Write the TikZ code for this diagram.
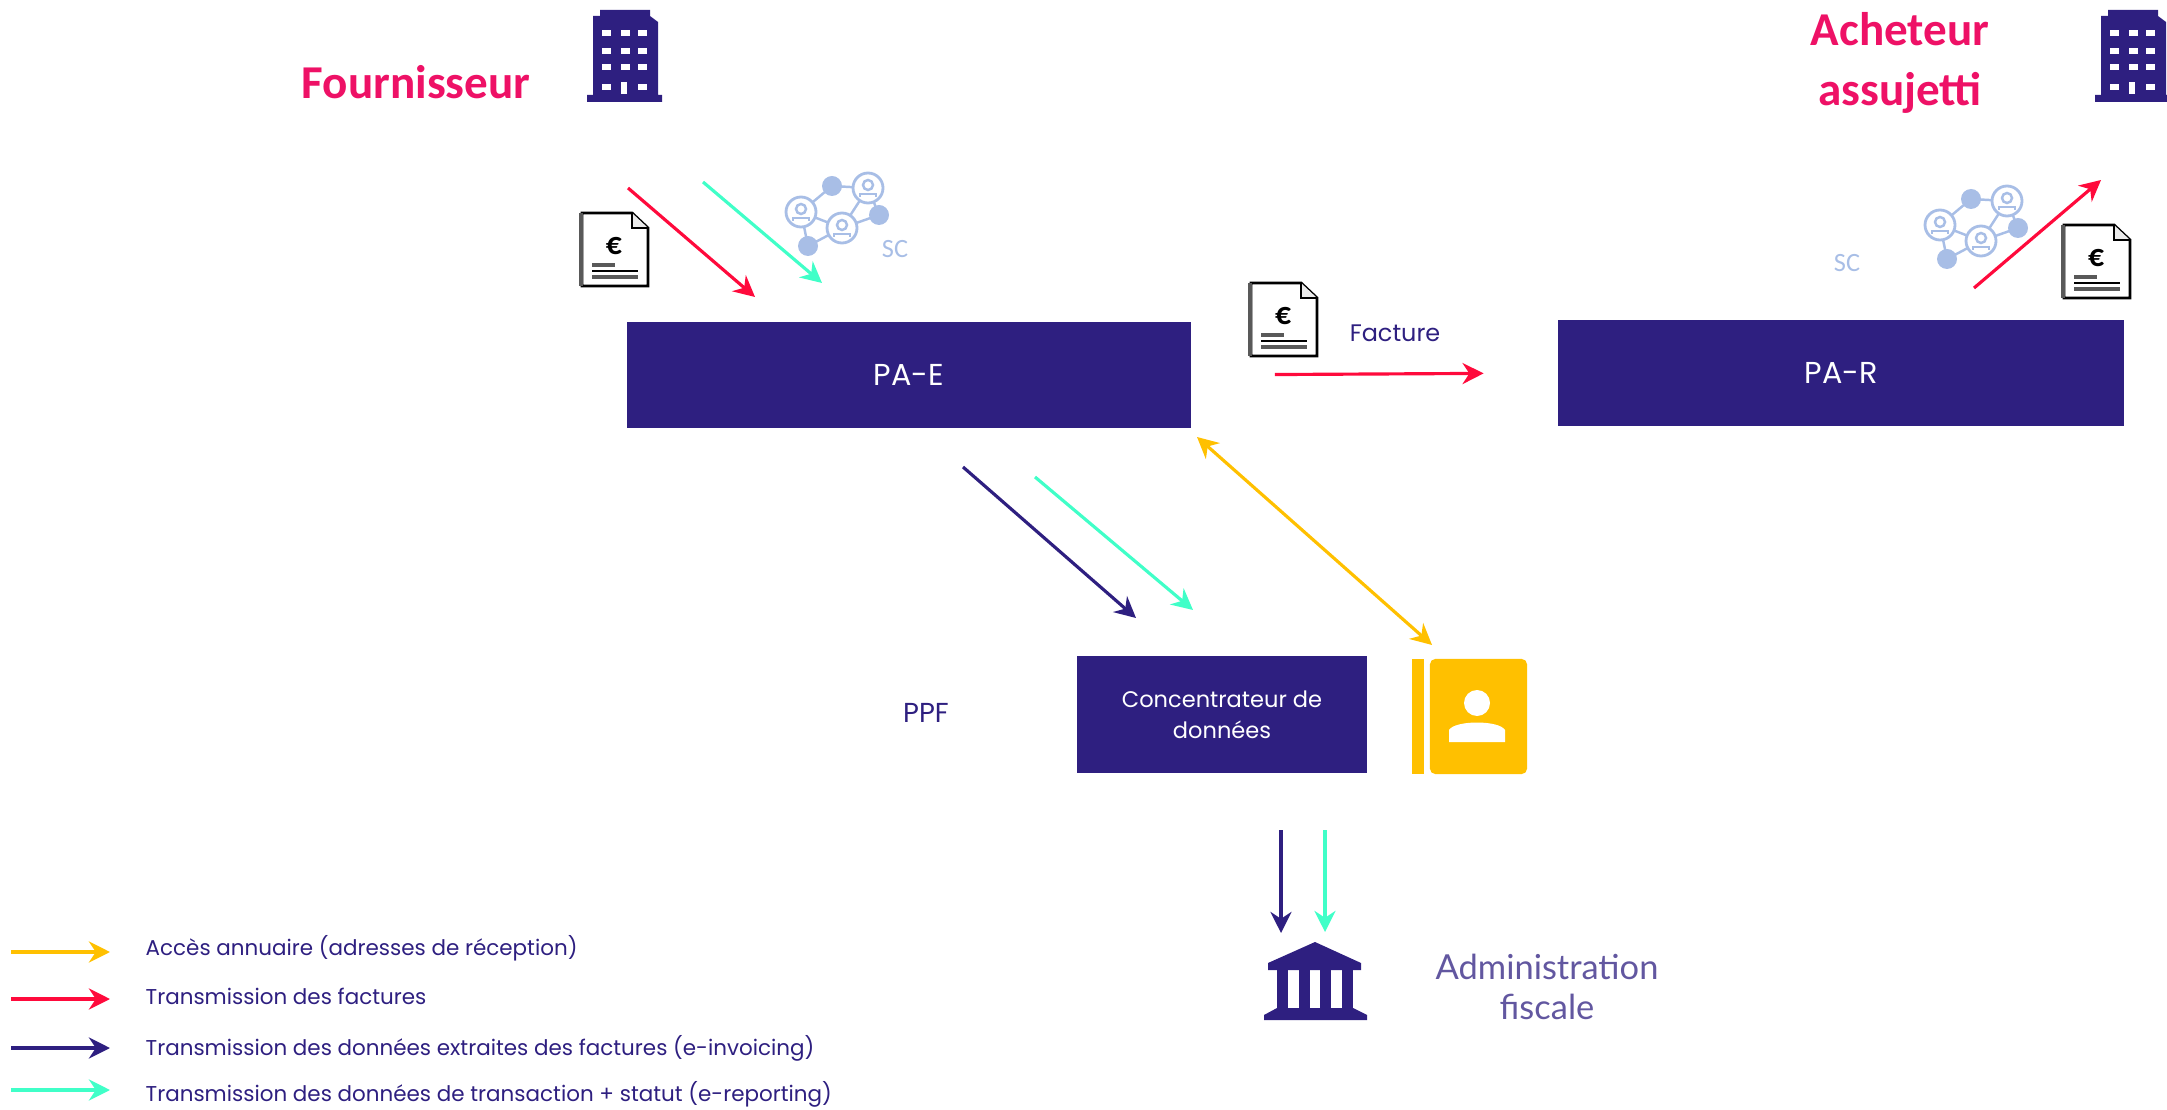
\documentclass[tikz,border=0pt]{standalone}
\usepackage{fontspec}
\setmainfont{Carlito}
\newfontfamily\boxfont{Poppins}
\newfontfamily\thinfont{Lato}
\usetikzlibrary{arrows.meta}
\usetikzlibrary{calc}

\definecolor{navy}{RGB}{46,31,128}
\definecolor{mpink}{RGB}{238,17,102}
\definecolor{mred}{RGB}{255,10,60}
\definecolor{mteal}{RGB}{64,255,200}
\definecolor{myellow}{RGB}{255,192,0}
\definecolor{lblue}{RGB}{168,190,230}
\definecolor{midgray}{rgb}{.35,.35,.35}

\begin{document}
\begin{tikzpicture}[x=.01cm,y=-.01cm,
    flow/.style={line width=.9pt,-{Stealth[length=6pt,width=6pt]}},
    navybox/.style={fill=navy,text=white,inner sep=0pt,font=\boxfont\fontsize{8.6}{10}\selectfont,align=center},
    party/.style={text=mpink,inner sep=0pt,font=\bfseries\fontsize{13.4}{15}\selectfont},
    sclabel/.style={text=lblue,inner sep=0pt,font=\fontsize{7.5}{9}\selectfont},
    legendtext/.style={text=navy,anchor=west,inner sep=0pt,font=\boxfont\fontsize{6.1}{8}\selectfont},
    building/.pic={
      \fill[navy] (6,13) -- (6,6) -- (13,6) -- (13,0) -- (63,0) -- (63,6) -- (71,12) -- (71,85) -- (75,85) -- (75,92) -- (0,92) -- (0,85) -- (6,85) -- cycle;
      \foreach \wx in {15,34,51} \foreach \wy in {20,38,54,74}
        \fill[white] (\wx,\wy) rectangle ++(9,6);
      \fill[navy] (34,74) rectangle ++(9,6);
      \fill[white] (34,72) rectangle ++(6,12);
    },
    invoice/.pic={
      \draw[black,fill=white,line width=.8pt] (2,0) -- (52,0) -- (68,15) -- (68,73) -- (2,73) -- cycle;
      \draw[black,fill=black!8,line width=.8pt] (52,0) -- (52,15) -- (68,15);
      \draw[midgray,line width=1pt] (1,0) -- (1,73);
      \node[inner sep=0pt,font=\bfseries\fontsize{9}{9}\selectfont] at (34,33) {€};
      \draw[midgray,line width=1.1pt] (12,52) -- (35,52);
      \draw[black,line width=.8pt] (12,58) -- (58,58);
      \draw[midgray,line width=1.1pt] (12,64) -- (58,64);
    },
    network/.pic={
      \draw[lblue,line width=.7pt] (31,-26) -- (0,0) -- (41,16) -- (7,34) -- (0,0) (31,-26) -- (67,-24) -- (41,16) -- (78,3) -- (67,-24);
      \foreach \nx/\ny in {31/-26,78/3,7/34}
        \fill[lblue] (\nx,\ny) circle (10);
      \foreach \nx/\ny in {0/0,67/-24,41/16} {
        \draw[lblue,fill=white,line width=.8pt] (\nx,\ny) circle (15);
        \draw[lblue,line width=.7pt] (\nx,\ny-3) circle (5);
        \draw[lblue,line width=.7pt] (\nx-8,\ny+9) -- (\nx-8,\ny+6) -- (\nx+8,\ny+6) -- (\nx+8,\ny+9);
      }
    }]

\useasboundingbox (0,0) rectangle (2167,1110);

% boxes
\node[navybox,minimum width=5.64cm,minimum height=1.05cm] (pae) at (909,375) {PA-E};
\node[navybox,minimum width=5.65cm,minimum height=1.06cm] (par) at (1841,373) {PA-R};
\node[navybox,minimum width=2.9cm,minimum height=1.17cm,font=\boxfont\fontsize{6.4}{8.8}\selectfont] (ppf) at (1222,714.5) {Concentrateur de\\données};
\node[fill=myellow,rounded corners=1.5pt,inner sep=0pt,minimum width=.97cm,minimum height=1.15cm] (book) at (1478.5,716.5) {};
\node[fill=myellow,inner sep=0pt,minimum width=.12cm,minimum height=1.15cm] (spine) at (1418,716.5) {};
\fill[white] (1477,703) circle (13);
\fill[white] (1449,742) -- (1449,730) .. controls (1455,720) and (1499,720) .. (1505,730) -- (1505,742) -- cycle;

% parties
\node[party] (four) at (416,82) {Fournisseur};
\node[party] (ach1) at (1900,29) {Acheteur};
\node[party] (ach2) at (1900,93) {assujetti};
\pic at (587,10) {building};
\pic at (2095,10) {building};

% invoices + networks
\pic at (580,213) {invoice};
\pic at (2062,225) {invoice};
\pic at (1249,283) {invoice};
\pic at (801,212) {network};
\pic at (1940,225) {network};
\node[sclabel] (sc1) at (895,249) {SC};
\node[sclabel] (sc2) at (1847,263) {SC};

% other labels
\node[inner sep=0pt,text=navy,font=\boxfont\fontsize{6.8}{8}\selectfont] (fact) at (1395,333) {Facture};
\node[inner sep=0pt,text=navy,font=\boxfont\fontsize{7.8}{9}\selectfont] (ppflabel) at (926,713) {PPF};
\node[inner sep=0pt,text=navy!75,align=center,font=\thinfont\fontsize{9.8}{11.4}\selectfont] (admin) at (1547,987) {Administration\\fiscale};

% bank
\fill[navy] (1315,942) -- (1361,963) -- (1361,970) -- (1268,970) -- (1268,963) -- cycle;
\foreach \cx in {1277,1299,1320,1342}
  \fill[navy] (\cx,970) rectangle ++(11,40);
\fill[navy] (1277,1008) -- (1353,1008) -- (1367,1015) -- (1367,1020) -- (1264,1020) -- (1264,1015) -- cycle;
\node[inner sep=0pt,minimum size=0pt] (bank) at (1315,960) {};

% free ends of arrows
\coordinate (rs1) at (628,188);
\coordinate (re1) at (755,297);
\coordinate (ts1) at (703,182);
\coordinate (te1) at (822,283);
\coordinate (rs2) at (1974,288);
\coordinate (re2) at (2101,180);
\coordinate (ds1) at (963,467);
\coordinate (de1) at (1136,618);
\coordinate (ts2) at (1035,477);
\coordinate (te2) at (1193,610);
\coordinate (ys1) at (1197,437);
\coordinate (ye1) at (1432,645);
\coordinate (ds2) at (1281,830);
\coordinate (de2) at (1281,933);
\coordinate (ts3) at (1325,830);
\coordinate (te3) at (1325,932);

\draw[flow,mred] (rs1) -- (re1);
\draw[flow,mteal] (ts1) -- (te1);
\draw[flow,mred] (rs2) -- (re2);
\draw[flow,mred,shorten <=.83cm,shorten >=.74cm] (pae.east) -- (par.west);
\draw[flow,navy] (ds1) -- (de1);
\draw[flow,mteal] (ts2) -- (te2);
\draw[flow,myellow,{Stealth[length=6pt,width=6pt]}-{Stealth[length=6pt,width=6pt]}] (ys1) -- (ye1);
\draw[flow,navy] (ds2) -- (de2);
\draw[flow,mteal] (ts3) -- (te3);

% legend
\node[legendtext] (leg1) at (145,948) {Accès annuaire (adresses de réception)};
\node[legendtext] (leg2) at (145,996) {Transmission des factures};
\node[legendtext] (leg3) at (145,1048) {Transmission des données extraites des factures (e-invoicing)};
\node[legendtext] (leg4) at (145,1094) {Transmission des données de transaction + statut (e-reporting)};
\coordinate (ls1) at (11,952);
\coordinate (ls2) at (11,999);
\coordinate (ls3) at (11,1048);
\coordinate (ls4) at (11,1090);
\draw[flow,myellow] (ls1) -- ++(99,0);
\draw[flow,mred] (ls2) -- ++(99,0);
\draw[flow,navy] (ls3) -- ++(99,0);
\draw[flow,mteal] (ls4) -- ++(99,0);

\end{tikzpicture}
\end{document}
